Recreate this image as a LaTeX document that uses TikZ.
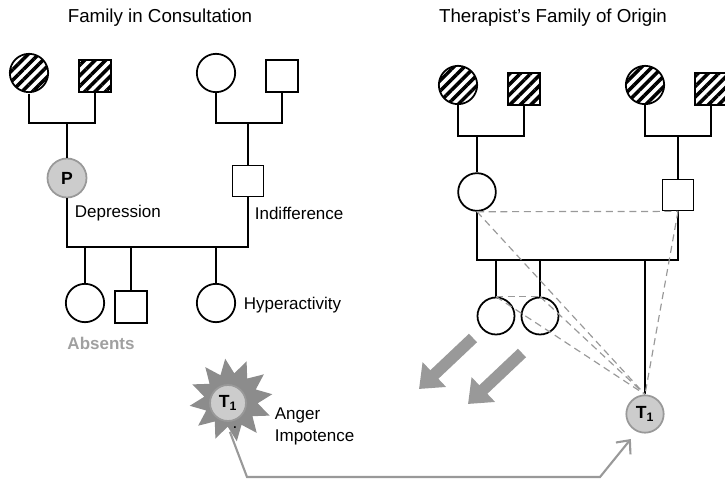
\documentclass[tikz,border=0pt]{standalone}
\usepackage{fontspec}
\setmainfont{Liberation Sans}
\usetikzlibrary{arrows.meta,patterns.meta,shapes.geometric}
\definecolor{midgray}{HTML}{999999}
\definecolor{softgray}{HTML}{CCCCCC}
\definecolor{absgray}{HTML}{A0A0A0}
\definecolor{burstgray}{HTML}{8C8C8C}
\begin{document}
\begin{tikzpicture}[x=0.03cm,y=-0.03cm,line width=1.5pt,font=\fontsize{14.5}{17}\selectfont,
	fem/.style={circle,draw,inner sep=0pt,minimum size=1.15cm},
	mal/.style={draw,inner sep=0pt,minimum size=0.95cm},
	hatched/.style={pattern={Lines[angle=45,distance=6.3pt,line width=3pt]}},
	marked/.style={circle,draw=midgray,fill=softgray,inner sep=0pt,minimum size=1.12cm,font=\fontsize{15}{17}\selectfont\bfseries},
	rel/.style={draw=midgray,line width=1pt,dash pattern=on 6pt off 4pt},
	push/.style={draw=midgray,line width=10pt,-{Triangle[length=18pt,width=28pt]}},
	link/.style={draw=midgray,line width=1.8pt,-{Straight Barb[length=9pt,width=16pt]},shorten >=8pt},
	lbl/.style={anchor=west,inner sep=0pt},
	title/.style={font=\fontsize{16}{19}\selectfont}]
		\useasboundingbox (0,0) rectangle (725,479);
		\node[title] (ttl1) at (160,18) {Family in Consultation};
		\node[title] (ttl2) at (553,18) {Therapist’s Family of Origin};
		% family in consultation
		\node[fem,hatched] (gm1) at (29,73) {};
		\node[mal,hatched] (gf1) at (95,76) {};
		\node[fem] (gm2) at (216,73) {};
		\node[mal] (gf2) at (282,76) {};
		\node[marked,minimum size=1.17cm] (pat) at (67,178) {P};
		\node[mal,minimum size=0.93cm] (dad) at (248,181) {};
		\node[fem] (kid1) at (85,303) {};
		\node[mal] (kid2) at (131,307) {};
		\node[fem] (kid3) at (216,303) {};
		\coordinate (j1) at (67,123);
		\coordinate (j2) at (248,123);
		\coordinate (m1) at (158,247);
		\draw (gm1) |- (j1) -| (gf1);
		\draw (j1) -- (pat);
		\draw (gm2) |- (j2) -| (gf2);
		\draw (j2) -- (dad);
		\draw (pat) |- (m1) -| (dad);
		\draw (kid1) -- (kid1 |- m1);
		\draw (kid2) -- (kid2 |- m1);
		\draw (kid3) -- (kid3 |- m1);
		\node[lbl] (dep) at (74,213) {Depression};
		\node[lbl] (ind) at (254,213) {Indifference};
		\node[lbl] (hyp) at (243,305) {Hyperactivity};
		\node[font=\fontsize{14.5}{17}\selectfont\bfseries,text=absgray] (abs) at (101,343) {Absents};
		% therapist's family of origin
		\node[fem,hatched] (gm3) at (458,85) {};
		\node[mal,hatched] (gf3) at (524,89) {};
		\node[fem,hatched] (gm4) at (645,85) {};
		\node[mal,hatched] (gf4) at (711,89) {};
		\node[fem,minimum size=1.13cm] (mom) at (477,192) {};
		\node[mal,minimum size=0.93cm] (pop) at (678,195) {};
		\node[fem,minimum size=1.11cm] (sis1) at (496,316) {};
		\node[fem,minimum size=1.11cm] (sis2) at (540,316) {};
		\node[marked] (ther) at (645,414) {T\textsubscript{1}};
		\coordinate (j3) at (477,136);
		\coordinate (j4) at (678,136);
		\coordinate (m2) at (577,260);
		\draw (gm3) |- (j3) -| (gf3);
		\draw (j3) -- (mom);
		\draw (gm4) |- (j4) -| (gf4);
		\draw (j4) -- (pop);
		\draw (mom) |- (m2) -| (pop);
		\draw (sis1) -- (sis1 |- m2);
		\draw (sis2) -- (sis2 |- m2);
		\draw (ther) -- (ther |- m2);
		\draw[rel] (mom.south) -- (pop.south);
		\draw[rel] (mom.south) -- (ther.north);
		\draw[rel] (pop.south) -- (ther.north);
		\draw[rel] (sis1.north) -- (sis2.north);
		\draw[rel] (sis1.north) -- (ther.north);
		\draw[rel] (sis2.north) -- (ther.north);
		% projection
		\coordinate (a1s) at (473,338);
		\coordinate (a1e) at (419,389);
		\coordinate (a2s) at (522,353);
		\coordinate (a2e) at (468,404);
		\draw[push] (a1s) -- (a1e);
		\draw[push] (a2s) -- (a2e);
		\node[star,star points=12,star point ratio=1.55,rotate=8,fill=burstgray,minimum size=2.5cm,inner sep=0pt] (burst) at (231,400) {};
		\node[marked,minimum size=1.08cm] (ther0) at (228,403) {T\textsubscript{1}};
		\node[inner sep=0pt] (dot) at (235,428) {.};
		\node[lbl] (ang) at (274,415) {Anger};
		\node[lbl] (imp) at (274,437) {Impotence};
		\coordinate (b1) at (247,477);
		\coordinate (b2) at (600,477);
		\draw[link] (burst.-100) -- (b1) -- (b2) -- (ther.-115);
\end{tikzpicture}
\end{document}
